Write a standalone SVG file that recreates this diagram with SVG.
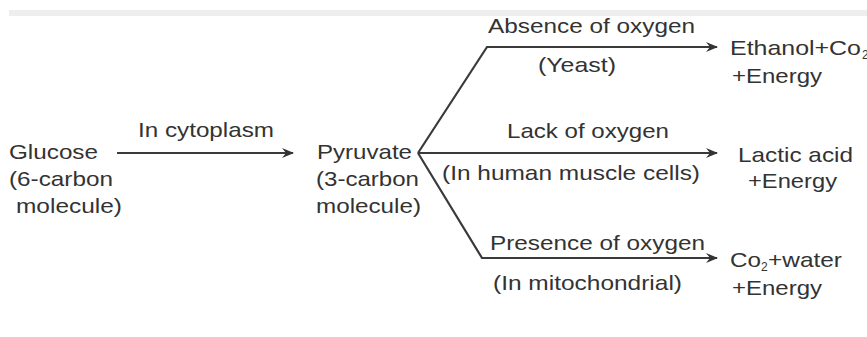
<svg xmlns="http://www.w3.org/2000/svg" width="867" height="337" viewBox="0 0 867 337">
<style>
text{font-family:"Liberation Sans",Arial,sans-serif;font-size:21px;fill:#333;}
.ln{fill:none;stroke:#3a3a3a;stroke-width:2.2;stroke-linejoin:miter;}
text.sub{font-size:12px;}
</style>
<defs>
<marker id="ah" viewBox="0 0 12 10" refX="11" refY="5" markerWidth="12" markerHeight="10" markerUnits="userSpaceOnUse" orient="auto">
<path d="M0,0 L12,5 L0,10 L4,5 Z" fill="#333"/>
</marker>
</defs>
<rect x="9" y="10" width="858" height="6" fill="#eeeeee"/>
<g id="connectors">
<path class="ln" d="M117,153 L293,153" marker-end="url(#ah)"/>
<path class="ln" d="M418,153 L487,47 L717,47" marker-end="url(#ah)"/>
<path class="ln" d="M418,153 L717,153" marker-end="url(#ah)"/>
<path class="ln" d="M418,153 L482,258 L717,258" marker-end="url(#ah)"/>
<text x="138" y="137" textLength="136" lengthAdjust="spacingAndGlyphs">In cytoplasm</text>
<text x="488" y="33" textLength="207" lengthAdjust="spacingAndGlyphs">Absence of oxygen</text>
<text x="538" y="72" textLength="78" lengthAdjust="spacingAndGlyphs">(Yeast)</text>
<text x="507" y="138" textLength="162" lengthAdjust="spacingAndGlyphs">Lack of oxygen</text>
<text x="442" y="180" textLength="258" lengthAdjust="spacingAndGlyphs">(In human muscle cells)</text>
<text x="490" y="250" textLength="215" lengthAdjust="spacingAndGlyphs">Presence of oxygen</text>
<text x="493" y="290" textLength="189" lengthAdjust="spacingAndGlyphs">(In mitochondrial)</text>
</g>
<g id="glucose">
<text x="9" y="159" textLength="89" lengthAdjust="spacingAndGlyphs">Glucose</text>
<text x="9" y="186" textLength="104" lengthAdjust="spacingAndGlyphs">(6-carbon</text>
<text x="16" y="213" textLength="106" lengthAdjust="spacingAndGlyphs">molecule)</text>
</g>
<g id="pyruvate">
<text x="317" y="159" textLength="95" lengthAdjust="spacingAndGlyphs">Pyruvate</text>
<text x="316" y="186" textLength="103" lengthAdjust="spacingAndGlyphs">(3-carbon</text>
<text x="316" y="213" textLength="105" lengthAdjust="spacingAndGlyphs">molecule)</text>
</g>
<g id="ethanol">
<text x="730" y="55" textLength="131" lengthAdjust="spacingAndGlyphs">Ethanol+Co</text>
<text class="sub" x="862" y="59">2</text>
<text x="732" y="83" textLength="90" lengthAdjust="spacingAndGlyphs">+Energy</text>
</g>
<g id="lactic">
<text x="738" y="162" textLength="115" lengthAdjust="spacingAndGlyphs">Lactic acid</text>
<text x="748" y="188" textLength="89" lengthAdjust="spacingAndGlyphs">+Energy</text>
</g>
<g id="co2water">
<text x="730" y="267" textLength="31" lengthAdjust="spacingAndGlyphs">Co</text>
<text class="sub" x="761" y="271">2</text>
<text x="768" y="267" textLength="74" lengthAdjust="spacingAndGlyphs">+water</text>
<text x="732" y="295" textLength="90" lengthAdjust="spacingAndGlyphs">+Energy</text>
</g>
</svg>
